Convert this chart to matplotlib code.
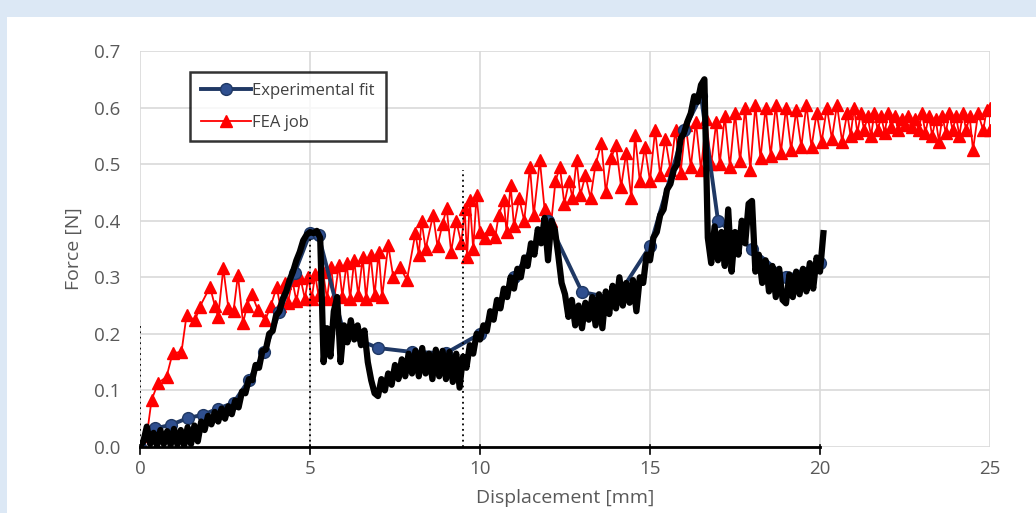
import numpy as np
import matplotlib
matplotlib.use("Agg")
import matplotlib.pyplot as plt
from matplotlib.patches import Rectangle

plt.rcParams['font.family'] = ['Open Sans', 'DejaVu Sans']

# ---------------- data ----------------
fea_x = [0.00, 0.10, 0.20, 0.34, 0.53, 0.78, 0.96, 1.22, 1.37, 1.62, 1.76, 2.06, 2.20, 2.30, 2.45,
         2.60, 2.75, 2.88, 3.03, 3.15, 3.28, 3.47, 3.68, 3.85, 4.02, 4.12, 4.25, 4.35, 4.48, 4.60,
         4.72, 4.85, 4.95, 5.05, 5.15, 5.25, 5.38, 5.50, 5.62, 5.72, 5.85, 5.95, 6.08, 6.18, 6.30,
         6.42, 6.55, 6.65, 6.78, 6.90, 7.02, 7.12, 7.30, 7.45, 7.65, 7.85, 8.10, 8.20, 8.28, 8.40,
         8.62, 8.75, 8.90, 9.02, 9.15, 9.30, 9.45, 9.55, 9.62, 9.70, 9.80, 9.90, 10.00, 10.15, 10.30,
         10.45, 10.55, 10.70, 10.78, 10.90, 11.00, 11.15, 11.30, 11.47, 11.58, 11.76, 11.90, 12.10,
         12.22, 12.35, 12.48, 12.62, 12.72, 12.84, 12.95, 13.10, 13.25, 13.40, 13.57, 13.70, 13.85,
         14.00, 14.15, 14.30, 14.45, 14.56, 14.70, 14.85, 15.00, 15.15, 15.30, 15.45, 15.60, 15.75,
         15.90, 16.05, 16.20, 16.35, 16.50, 16.65, 16.80, 16.95, 17.05, 17.20, 17.35, 17.50, 17.65,
         17.80, 17.95, 18.10, 18.25, 18.40, 18.55, 18.70, 18.85, 19.00, 19.15, 19.30, 19.45, 19.60,
         19.75, 19.90, 20.05, 20.20, 20.35, 20.50, 20.65, 20.80, 20.90, 21.00, 21.10, 21.20, 21.30,
         21.40, 21.50, 21.60, 21.70, 21.80, 21.90, 22.00, 22.10, 22.20, 22.30, 22.40, 22.50, 22.60,
         22.70, 22.80, 22.90, 23.00, 23.10, 23.20, 23.30, 23.40, 23.50, 23.60, 23.70, 23.80, 23.90,
         24.00, 24.10, 24.20, 24.30, 24.40, 24.50, 24.65, 24.80, 24.90, 25.00, 25.00]
fea_y = [0.000, 0.000, 0.020, 0.083, 0.113, 0.124, 0.166, 0.168, 0.233, 0.224, 0.248, 0.283, 0.250, 0.230, 0.316,
         0.245, 0.240, 0.304, 0.219, 0.250, 0.271, 0.242, 0.224, 0.250, 0.283, 0.250, 0.290, 0.255, 0.295, 0.258,
         0.298, 0.262, 0.300, 0.262, 0.305, 0.268, 0.310, 0.262, 0.318, 0.265, 0.322, 0.266, 0.325, 0.262, 0.330,
         0.268, 0.335, 0.262, 0.340, 0.268, 0.345, 0.265, 0.357, 0.300, 0.318, 0.295, 0.378, 0.340, 0.400, 0.350,
         0.410, 0.355, 0.395, 0.422, 0.345, 0.400, 0.360, 0.420, 0.336, 0.436, 0.350, 0.445, 0.380, 0.370, 0.385,
         0.372, 0.410, 0.436, 0.380, 0.463, 0.390, 0.440, 0.400, 0.495, 0.410, 0.507, 0.420, 0.400,
         0.470, 0.495, 0.430, 0.470, 0.440, 0.507, 0.445, 0.480, 0.440, 0.500, 0.537, 0.450, 0.510,
         0.533, 0.460, 0.520, 0.440, 0.551, 0.470, 0.530, 0.470, 0.560, 0.480, 0.545, 0.490, 0.560,
         0.485, 0.570, 0.495, 0.575, 0.490, 0.580, 0.500, 0.575, 0.500, 0.585, 0.495, 0.590, 0.505,
         0.600, 0.490, 0.605, 0.510, 0.600, 0.515, 0.605, 0.520, 0.600, 0.525, 0.595, 0.530, 0.605,
         0.530, 0.590, 0.540, 0.600, 0.545, 0.605, 0.540, 0.590, 0.550, 0.600, 0.555, 0.590, 0.560,
         0.585, 0.550, 0.590, 0.560, 0.585, 0.555, 0.590, 0.565, 0.585, 0.560, 0.580, 0.570, 0.585,
         0.565, 0.580, 0.560, 0.590, 0.555, 0.585, 0.550, 0.580, 0.540, 0.585, 0.555, 0.590, 0.560,
         0.585, 0.550, 0.590, 0.560, 0.585, 0.525, 0.590, 0.560, 0.595, 0.600, 0.560]

fit_x = [0, 0.45, 0.9, 1.4, 1.85, 2.3, 2.75, 3.2, 3.65, 4.1, 4.55, 5.0, 5.25, 6, 7, 8, 9, 10, 11, 12, 13,
         14, 15, 16, 16.5, 17, 18, 19, 20]
fit_y = [0, 0.033, 0.039, 0.051, 0.057, 0.068, 0.078, 0.118, 0.168, 0.238, 0.308, 0.378, 0.375, 0.200,
         0.175, 0.168, 0.166, 0.200, 0.300, 0.400, 0.274, 0.262, 0.355, 0.560, 0.620, 0.400, 0.350, 0.300, 0.325]

raw_x0, raw_dx = 0.0, 0.1
raw_y = [0.000, 0.010, 0.036, 0.005, 0.025, 0.002, 0.030, 0.005, 0.028, 0.003,
         0.032, 0.004, 0.030, 0.002, 0.035, 0.005, 0.038, 0.010, 0.045, 0.030,
         0.055, 0.040, 0.062, 0.045, 0.068, 0.050, 0.072, 0.058, 0.082, 0.070,
         0.098, 0.095, 0.120, 0.118, 0.145, 0.140, 0.170, 0.172, 0.200, 0.205,
         0.232, 0.240, 0.262, 0.275, 0.295, 0.310, 0.330, 0.345, 0.365, 0.375,
         0.380, 0.378, 0.382, 0.370, 0.150, 0.210, 0.160, 0.240, 0.265, 0.150,
         0.215, 0.185, 0.224, 0.190, 0.215, 0.180, 0.206, 0.150, 0.118, 0.095,
         0.090, 0.120, 0.100, 0.130, 0.110, 0.145, 0.120, 0.155, 0.125, 0.165,
         0.130, 0.170, 0.125, 0.175, 0.130, 0.165, 0.120, 0.172, 0.125, 0.170,
         0.120, 0.168, 0.115, 0.165, 0.105, 0.160, 0.140, 0.180, 0.165, 0.200,
         0.190, 0.215, 0.205, 0.240, 0.225, 0.260, 0.245, 0.280, 0.265, 0.300,
         0.280, 0.315, 0.300, 0.335, 0.320, 0.360, 0.340, 0.385, 0.360, 0.405,
         0.330, 0.400, 0.385, 0.340, 0.290, 0.270, 0.230, 0.260, 0.215, 0.250,
         0.210, 0.255, 0.225, 0.265, 0.215, 0.270, 0.210, 0.275, 0.235, 0.285,
         0.245, 0.300, 0.250, 0.290, 0.255, 0.295, 0.240, 0.300, 0.290, 0.340,
         0.330, 0.370, 0.380, 0.410, 0.420, 0.455, 0.465, 0.490, 0.500, 0.545,
         0.555, 0.575, 0.590, 0.620, 0.610, 0.640, 0.650, 0.370, 0.325, 0.390,
         0.330, 0.380, 0.320, 0.420, 0.310, 0.380, 0.340, 0.400, 0.360, 0.430,
         0.435, 0.310, 0.340, 0.290, 0.330, 0.275, 0.320, 0.265, 0.315, 0.260,
         0.254, 0.305, 0.265, 0.310, 0.270, 0.315, 0.275, 0.325, 0.280, 0.335,
         0.310, 0.378]
raw_x = raw_x0 + raw_dx * np.arange(len(raw_y))

x_ticks = [0, 5, 10, 15, 20, 25]
y_ticks = [0.0, 0.1, 0.2, 0.3, 0.4, 0.5, 0.6, 0.7]
overlay_ticks = [0, 5, 10, 15, 20]
dotted_x = [0, 5, 9.5]
dotted_top = [0.22, 0.38, 0.49]

# ---------------- figure ----------------
W, H = 1036, 513
fig = plt.figure(figsize=(W / 100, H / 100), dpi=100)
fig.patch.set_facecolor('#dce8f5')
fig.patches.append(Rectangle((7 / W, 0), 1 - 7 / W, 1 - 17 / H, transform=fig.transFigure,
                             facecolor='white', edgecolor='none', zorder=-10))

ax = fig.add_axes([140 / W, (H - 447) / H, 850 / W, 396 / H])
ax.set_facecolor('none')
ax.set_xlim(0, 25)
ax.set_ylim(0, 0.7)

for s in ax.spines.values():
    s.set_visible(False)
ax.set_xticks(x_ticks)
ax.set_yticks(y_ticks)
ax.set_xticklabels([str(v) for v in x_ticks])
ax.set_yticklabels([f"{v:.1f}" for v in y_ticks])
ax.tick_params(axis='both', length=0, labelsize=13.5, colors='#595959')
ax.tick_params(axis='x', pad=9)
ax.tick_params(axis='y', pad=14)
ax.grid(True, color='#d9d9d9', linewidth=1.2, zorder=0)
ax.set_axisbelow(True)

ax.set_xlabel('Displacement [mm]', fontsize=14, color='#595959', labelpad=8)
ax.set_ylabel('Force [N]', fontsize=14, color='#595959', labelpad=8)

# overlay axis (black) from the raw data plot
ax.plot([overlay_ticks[0], overlay_ticks[-1]], [0, 0], color='black', lw=2, zorder=5, clip_on=False)
for t in overlay_ticks:
    ax.plot([t, t], [-0.012, 0.004], color='black', lw=1.2, zorder=5, clip_on=False)
for dx, dt in zip(dotted_x, dotted_top):
    ax.plot([dx, dx], [0, dt], color='black', lw=1.3, ls=(0, (1, 2)), zorder=5)

# series
ax.plot(fea_x, fea_y, color='#ff0000', lw=1.3, marker='^', ms=9, mec='#ff0000',
        mfc='#ff0000', zorder=2, label='FEA job')
ax.plot(fit_x, fit_y, color='#1f3864', lw=2.8, marker='o', ms=8.5, mfc='#2f4f8f',
        mec='#1f3864', zorder=3, label='Experimental fit')
ax.plot(raw_x, raw_y, color='black', lw=4.5, zorder=4, solid_joinstyle='round')

handles, labels = ax.get_legend_handles_labels()
order = [1, 0]
leg = ax.legend([handles[i] for i in order], [labels[i] for i in order],
                loc='upper left', bbox_to_anchor=(0.0588, 0.947), borderaxespad=0,
                fontsize=12, handlelength=3.0, handletextpad=0.1, labelspacing=0.95,
                frameon=True, fancybox=False, edgecolor='black', borderpad=0.65)
leg.get_frame().set_linewidth(1.8)
for t in leg.get_texts():
    t.set_color('#404040')
leg.set_zorder(10)

fig.savefig('out.png', dpi=100)
